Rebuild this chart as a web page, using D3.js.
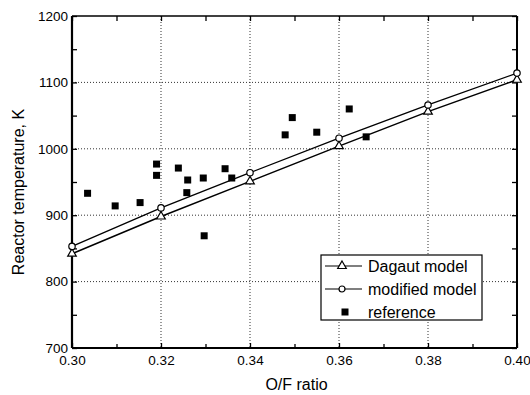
<!DOCTYPE html>
<html>
<head>
<meta charset="utf-8">
<script src="https://cdn.jsdelivr.net/npm/d3@7"></script>
<style>
  body { margin: 0; background: #fff; }
  text { font-family: "Liberation Sans", Arial, sans-serif; fill: #000; }
</style>
</head>
<body>
<div id="chart"></div>
<script>
// Data
const ofRatio = [0.30, 0.32, 0.34, 0.36, 0.38, 0.40];
const dagautT = [842, 898, 951, 1004, 1056, 1104];
const modifiedT = [853, 911, 964, 1016, 1066, 1114];

const refRatio = [0.3035, 0.3097, 0.3153, 0.3190, 0.3190, 0.3239, 0.3260, 0.3258, 0.3295, 0.3297,
                  0.3344, 0.3359, 0.3479, 0.3495, 0.3550, 0.3623, 0.3661];
const refT = [933, 914, 919, 977, 960, 971, 953, 934, 956, 869,
              970, 956, 1021, 1047, 1025, 1060, 1018];

const xMajor = [0.30, 0.32, 0.34, 0.36, 0.38, 0.40];
const xMinor = [0.31, 0.33, 0.35, 0.37, 0.39];
const yMajor = [700, 800, 900, 1000, 1100, 1200];
const yMinor = [750, 850, 950, 1050, 1150];

// Dimensions
const W = 530, H = 395;
const margin = { top: 16, right: 13, bottom: 47, left: 72 },
      width = W - margin.left - margin.right,
      height = H - margin.top - margin.bottom;

const x = d3.scaleLinear().domain([0.30, 0.40]).range([0, width]);
const y = d3.scaleLinear().domain([700, 1200]).range([height, 0]);

const svg = d3.select("#chart").append("svg")
    .attr("width", W)
    .attr("height", H)
  .append("g")
    .attr("transform", `translate(${margin.left},${margin.top})`);

// Dotted grid
svg.append("g").selectAll("line")
    .data(xMajor.slice(1, -1))
    .join("line")
    .attr("x1", d => x(d)).attr("x2", d => x(d))
    .attr("y1", 0).attr("y2", height)
    .attr("stroke", "#333").attr("stroke-width", 1)
    .attr("stroke-dasharray", "1,2");

svg.append("g").selectAll("line")
    .data(yMajor.slice(1, -1))
    .join("line")
    .attr("x1", 0).attr("x2", width)
    .attr("y1", d => y(d)).attr("y2", d => y(d))
    .attr("stroke", "#333").attr("stroke-width", 1)
    .attr("stroke-dasharray", "1,2");

// Axes (ticks pointing inward)
function styleAxis(g) {
  g.select(".domain").remove();
  g.selectAll(".tick line").attr("stroke", "#000").attr("stroke-width", 1.3);
  g.selectAll("text").style("font-size", "13.5px");
}

svg.append("g")
    .attr("transform", `translate(0,${height})`)
    .call(d3.axisBottom(x).tickValues(xMajor).tickFormat(d3.format(".2f"))
      .tickSizeInner(-5).tickSizeOuter(0).tickPadding(7))
    .call(styleAxis);
svg.append("g")
    .attr("transform", `translate(0,${height})`)
    .call(d3.axisBottom(x).tickValues(xMinor).tickFormat("").tickSizeInner(-4).tickSizeOuter(0))
    .call(styleAxis);
svg.append("g")
    .call(d3.axisTop(x).tickValues(xMajor.concat(xMinor)).tickFormat("").tickSizeInner(-5).tickSizeOuter(0))
    .call(styleAxis);

svg.append("g")
    .call(d3.axisLeft(y).tickValues(yMajor).tickFormat(d3.format("d"))
      .tickSizeInner(-5).tickSizeOuter(0).tickPadding(4))
    .call(styleAxis);
svg.append("g")
    .call(d3.axisLeft(y).tickValues(yMinor).tickFormat("").tickSizeInner(-5).tickSizeOuter(0))
    .call(styleAxis);
svg.append("g")
    .attr("transform", `translate(${width},0)`)
    .call(d3.axisRight(y).tickValues(yMajor.concat(yMinor)).tickFormat("").tickSizeInner(-5).tickSizeOuter(0))
    .call(styleAxis);

// Frame
svg.append("line").attr("x1", 0).attr("x2", width).attr("y1", 0).attr("y2", 0)
    .attr("stroke", "#000").attr("stroke-width", 1.6);
svg.append("line").attr("x1", 0).attr("x2", width).attr("y1", height).attr("y2", height)
    .attr("stroke", "#000").attr("stroke-width", 2.2);
svg.append("line").attr("x1", 0).attr("x2", 0).attr("y1", 0).attr("y2", height)
    .attr("stroke", "#000").attr("stroke-width", 2.2);
svg.append("line").attr("x1", width).attr("x2", width).attr("y1", 0).attr("y2", height)
    .attr("stroke", "#000").attr("stroke-width", 2);

// Model lines
const dagaut = ofRatio.map((r, i) => ({ r: r, t: dagautT[i] }));
const modified = ofRatio.map((r, i) => ({ r: r, t: modifiedT[i] }));
const line = d3.line().x(d => x(d.r)).y(d => y(d.t));

svg.append("path").datum(dagaut)
    .attr("fill", "none").attr("stroke", "#000").attr("stroke-width", 1.5)
    .attr("d", line);
svg.append("path").datum(modified)
    .attr("fill", "none").attr("stroke", "#000").attr("stroke-width", 1.3)
    .attr("d", line);

const tri = d3.symbol().type(d3.symbolTriangle).size(32);

svg.append("g").selectAll("path")
    .data(dagaut)
    .join("path")
    .attr("transform", d => `translate(${x(d.r)},${y(d.t)})`)
    .attr("d", tri)
    .attr("fill", "#fff").attr("stroke", "#000").attr("stroke-width", 1.2);

svg.append("g").selectAll("circle")
    .data(modified)
    .join("circle")
    .attr("cx", d => x(d.r)).attr("cy", d => y(d.t))
    .attr("r", 3.2)
    .attr("fill", "#fff").attr("stroke", "#000").attr("stroke-width", 1.2);

// Reference points
const refs = refRatio.map((r, i) => ({ r: r, t: refT[i] }));
svg.append("g").selectAll("rect")
    .data(refs)
    .join("rect")
    .attr("x", d => x(d.r) - 3.5).attr("y", d => y(d.t) - 3.5)
    .attr("width", 7).attr("height", 7)
    .attr("fill", "#000");

// Axis titles
svg.append("text")
    .attr("x", width / 2 + 2)
    .attr("y", height + 42)
    .style("text-anchor", "middle")
    .style("font-size", "16px")
    .text("O/F ratio");

svg.append("text")
    .attr("transform", "rotate(-90)")
    .attr("x", -(height / 2 + 10))
    .attr("y", -48)
    .style("text-anchor", "middle")
    .style("font-size", "16px")
    .text("Reactor temperature, K");

// Legend
const legend = svg.append("g").attr("transform", `translate(${321 - margin.left},${255 - margin.top})`);
legend.append("rect")
    .attr("width", 161).attr("height", 65)
    .attr("fill", "#fff").attr("stroke", "#000").attr("stroke-width", 1.2);

const rows = [
  { label: "Dagaut model", sym: "tri", dy: 11 },
  { label: "modified model", sym: "circle", dy: 34 },
  { label: "reference", sym: "square", dy: 57 }
];

rows.forEach(row => {
  const g = legend.append("g").attr("transform", `translate(0,${row.dy})`);
  if (row.sym !== "square") {
    g.append("line").attr("x1", 4).attr("x2", 41).attr("y1", 0).attr("y2", 0)
        .attr("stroke", "#000").attr("stroke-width", 1.2);
  }
  if (row.sym === "tri") {
    g.append("path").attr("transform", "translate(21,0)").attr("d", tri)
        .attr("fill", "#fff").attr("stroke", "#000").attr("stroke-width", 1.2);
  } else if (row.sym === "circle") {
    g.append("circle").attr("cx", 21).attr("r", 3)
        .attr("fill", "#fff").attr("stroke", "#000").attr("stroke-width", 1.2);
  } else {
    g.append("rect").attr("x", 20.5).attr("y", -3.5).attr("width", 7).attr("height", 7)
        .attr("fill", "#000");
  }
  g.append("text")
      .attr("x", 47).attr("y", 6)
      .style("font-size", "16px")
      .text(row.label);
});
</script>
</body>
</html>
